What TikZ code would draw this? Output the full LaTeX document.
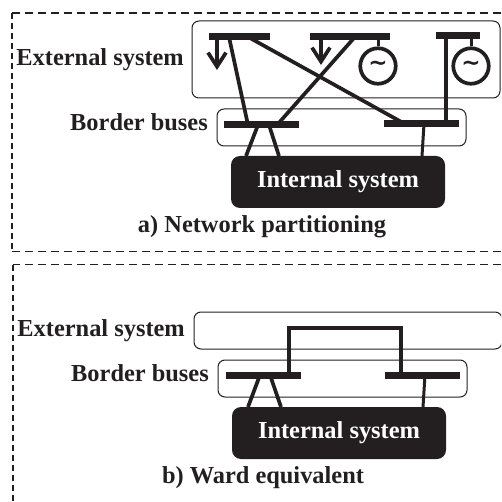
\documentclass[tikz,border=0pt]{standalone}
\usepackage{fontspec}
\setmainfont{Liberation Serif}
\newfontfamily\tildefont{DejaVu Sans}
\usetikzlibrary{arrows.meta}
\definecolor{ink}{HTML}{231F20}
\tikzset{
  panel/.style={draw=ink,line width=1.4pt,dash pattern=on 8pt off 5pt},
  sidepanel/.style={draw=ink,line width=1.3pt,dash pattern=on 6pt off 4pt},
  areabox/.style={draw=ink,line width=1pt,rounded corners=7pt,inner sep=0pt},
  bus/.style={fill=ink,inner sep=0pt,minimum height=7pt},
  internal/.style={fill=ink,rounded corners=9pt,inner sep=0pt,minimum width=214pt,minimum height=52pt,
    text=white,font=\fontsize{24.4}{24.4}\selectfont\bfseries},
  lbl/.style={inner sep=0pt,text=ink,font=\fontsize{24.4}{24.4}\selectfont\bfseries},
  gen/.style={circle,draw=ink,line width=3.7pt,minimum size=35.5pt,inner sep=0pt,text=ink,
    font=\tildefont\fontsize{23}{23}\selectfont\bfseries},
  link/.style={draw=ink,line width=3.7pt},
  thinlink/.style={draw=ink,line width=3pt},
  load/.style={draw=ink,line width=3.7pt,-{Straight Barb[length=14pt,width=18pt,line width=3.7pt]}}
}
\begin{document}
\begin{tikzpicture}[x=1pt,y=-1pt]
  \useasboundingbox (0,0) rectangle (501,502);
  \clip (0,0) rectangle (501,502);

  % a) network partitioning
  \draw[panel] (501,13) -- (12,13);
  \draw[sidepanel] (12,13) -- (12,251.5);
  \draw[panel] (12,251.5) -- (501,251.5);
  \node[areabox,minimum width=308pt,minimum height=77pt] (exta) at (346,59.5) {};
  \node[areabox,minimum width=249pt,minimum height=37pt] (bordera) at (341.5,127.5) {};
  \node[lbl,anchor=east] (extlabela) at (184,60) {External system};
  \node[lbl,anchor=east] (borderlabela) at (208,122) {Border buses};
  \node[internal] (intsysa) at (338,182) {Internal system};
  \node[lbl] (captiona) at (262,227) {a) Network partitioning};

  \node[bus,minimum width=61pt] (busa1) at (239.5,37) {};
  \node[bus,minimum width=80pt] (busa2) at (350,37) {};
  \node[bus,minimum width=44pt] (busa3) at (458,36) {};
  \node[bus,minimum width=75pt] (busa4) at (261.5,125) {};
  \node[bus,minimum width=75pt] (busa5) at (421.5,124) {};
  \node[gen] (gena1) at (378,66) {\textasciitilde};
  \node[gen] (gena2) at (471,66) {\textasciitilde};

  \coordinate (p1) at (229,37);
  \coordinate (p2) at (248,125);
  \coordinate (p3) at (250,38);
  \coordinate (p4) at (405,124);
  \coordinate (p5) at (354,38);
  \coordinate (p6) at (277,125);
  \coordinate (p7) at (446,36);
  \coordinate (p8) at (446,124);
  \foreach \from/\to in {p1/p2,p3/p4,p5/p6,p7/p8}
    \draw[link] (\from) -- (\to);

  \coordinate (p9) at (258,125);
  \coordinate (p10) at (246,156);
  \coordinate (p11) at (269,125);
  \coordinate (p12) at (279,156);
  \coordinate (p13) at (424,124);
  \coordinate (p14) at (422,156);
  \foreach \from/\to in {p9/p10,p11/p12}
    \draw[link] (\from) -- (\to);
  \draw[thinlink] (p13) -- (p14);

  \coordinate (g1) at (378,37);
  \coordinate (g2) at (471,36);
  \foreach \from/\to in {g1/gena1,g2/gena2}
    \draw[thinlink] (\from) -- (\to);

  \coordinate (l1) at (217,37);
  \coordinate (l2) at (217,70);
  \coordinate (l3) at (321,37);
  \coordinate (l4) at (321,65);
  \foreach \from/\to in {l1/l2,l3/l4}
    \draw[load] (\from) -- (\to);

  % b) ward equivalent
  \draw[panel] (501,264.5) -- (13,264.5);
  \draw[sidepanel] (13,264.5) -- (13,502);
  \node[areabox,minimum width=308pt,minimum height=37pt] (extb) at (348,330.5) {};
  \node[areabox,minimum width=249pt,minimum height=37pt] (borderb) at (342.5,378.5) {};
  \node[lbl,anchor=east] (extlabelb) at (185,331) {External system};
  \node[lbl,anchor=east] (borderlabelb) at (209,373) {Border buses};
  \node[internal] (intsysb) at (339,433) {Internal system};
  \node[lbl] (captionb) at (263,478) {b) Ward equivalent};

  \node[bus,minimum width=75pt] (busb1) at (263.5,375) {};
  \node[bus,minimum width=75pt] (busb2) at (422.5,375) {};

  \coordinate (q1) at (289,375);
  \coordinate (q2) at (289,328);
  \coordinate (q3) at (401,328);
  \coordinate (q4) at (401,375);
  \draw[link,line join=miter] (q1) -- (q2) -- (q3) -- (q4);

  \coordinate (q5) at (260,375);
  \coordinate (q6) at (248,407);
  \coordinate (q7) at (270,375);
  \coordinate (q8) at (281,407);
  \coordinate (q9) at (425,375);
  \coordinate (q10) at (423,407);
  \foreach \from/\to in {q5/q6,q7/q8}
    \draw[link] (\from) -- (\to);
  \draw[thinlink] (q9) -- (q10);

\end{tikzpicture}
\end{document}
